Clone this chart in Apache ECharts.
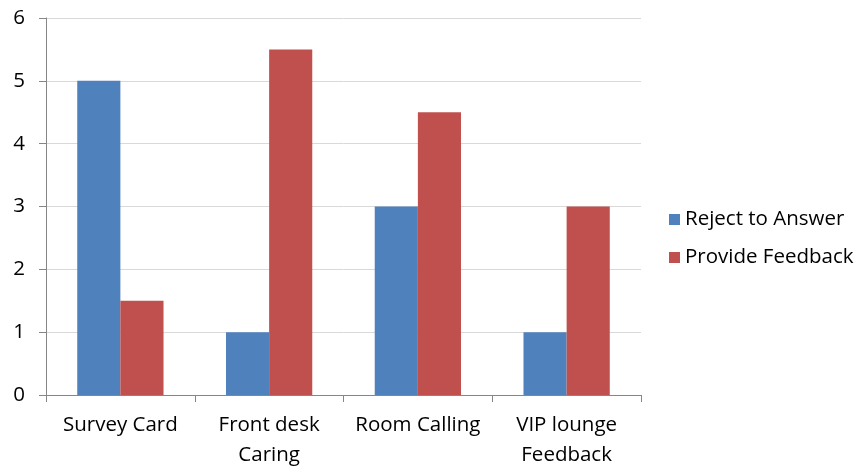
<!DOCTYPE html>
<html>
<head>
<meta charset="utf-8">
<script src="https://cdn.jsdelivr.net/npm/echarts@6/dist/echarts.min.js"></script>
<style>
  html, body { margin: 0; padding: 0; background: #fff; }
  #chart-container { width: 864px; height: 468px; }
</style>
</head>
<body>
<div id="chart-container"></div>
<script>
const categories = ['Survey Card', 'Front desk\nCaring', 'Room Calling', 'VIP lounge\nFeedback'];
const rejectToAnswer = [5, 1, 3, 1];
const provideFeedback = [1.5, 5.5, 4.5, 3];
const seriesNames = ['Reject to Answer', 'Provide Feedback'];

var dom = document.getElementById('chart-container');
var myChart = echarts.init(dom, null, { renderer: 'canvas' });

const font = 'Open Sans';

var option = {
  animation: false,
  grid: { left: 46, right: 223, top: 18, bottom: 73, containLabel: false, outerBoundsMode: 'none' },
  legend: {
    orient: 'vertical',
    left: 664,
    top: 204,
    itemWidth: 11,
    itemHeight: 11,
    itemGap: 17,
    icon: 'rect',
    textStyle: { fontFamily: font, fontSize: 20.5, color: '#000' },
    data: seriesNames
  },
  xAxis: {
    type: 'category',
    data: categories,
    axisLine: { lineStyle: { color: '#868686', width: 1 } },
    axisTick: { show: true, length: 7, lineStyle: { color: '#868686' } },
    axisLabel: {
      fontFamily: font, fontSize: 20.5, color: '#000',
      margin: 15, lineHeight: 30, interval: 0
    }
  },
  yAxis: {
    type: 'value',
    min: 0, max: 6, interval: 1,
    axisLine: { show: true, lineStyle: { color: '#868686', width: 1 } },
    axisTick: { show: true, length: 7, lineStyle: { color: '#868686' } },
    splitLine: { lineStyle: { color: '#d9d9d9', width: 1 } },
    axisLabel: { fontFamily: font, fontSize: 20.5, color: '#000', margin: 21 }
  },
  series: [
    {
      name: seriesNames[0],
      type: 'bar',
      barGap: 0,
      barCategoryGap: '42%',
      itemStyle: { color: '#4f81bd' },
      data: rejectToAnswer
    },
    {
      name: seriesNames[1],
      type: 'bar',
      barGap: 0,
      barCategoryGap: '42%',
      itemStyle: { color: '#c0504d' },
      data: provideFeedback
    }
  ]
};

myChart.setOption(option);
</script>
</body>
</html>
